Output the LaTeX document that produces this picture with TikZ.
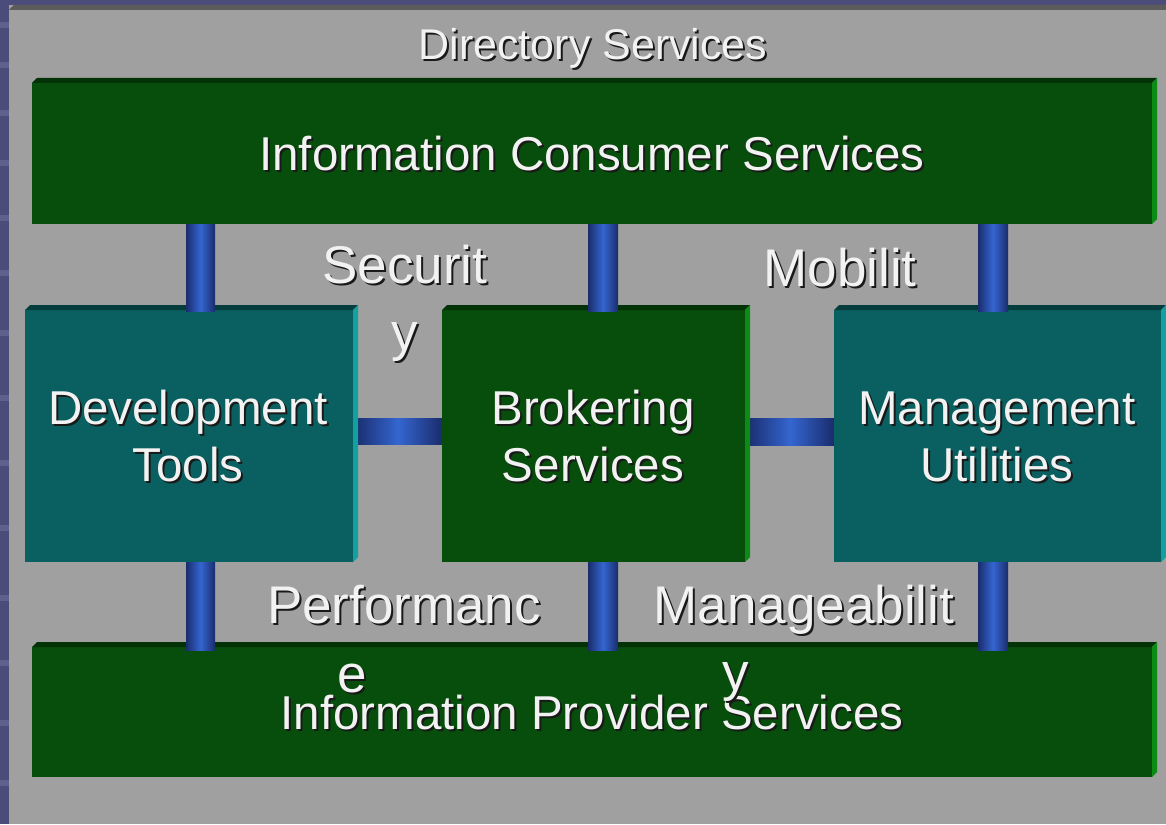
\documentclass[tikz,border=0pt]{standalone}
\usepackage{fontspec}
\setmainfont{Liberation Sans}
\usetikzlibrary{calc}
\definecolor{bgblue}{RGB}{76,76,122}
\definecolor{bgstripe}{RGB}{96,96,140}
\definecolor{panel}{RGB}{160,160,160}
\definecolor{panelband}{RGB}{92,92,92}
\definecolor{gfront}{RGB}{7,77,11}
\definecolor{gtop}{RGB}{3,50,6}
\definecolor{gside}{RGB}{12,140,20}
\definecolor{tfront}{RGB}{10,96,96}
\definecolor{ttop}{RGB}{5,60,60}
\definecolor{tside}{RGB}{18,160,160}
\definecolor{bdark}{RGB}{26,44,108}
\definecolor{blight}{RGB}{52,102,208}
\definecolor{txtc}{RGB}{242,242,242}
\definecolor{shc}{RGB}{25,25,25}
\newcommand\fs[1]{\fontsize{#1}{#1}\selectfont}
\tikzset{
  box/.style={draw=none, inner sep=0pt, outer sep=0pt, anchor=north west},
  gbox/.style={box, fill=gfront},
  tbox/.style={box, fill=tfront},
  bar/.style={inner sep=0pt, outer sep=0pt, draw=none, left color=bdark, right color=bdark, middle color=blight},
  txt/.style={inner sep=0pt, anchor=base, text=txtc},
  txtsh/.style={inner sep=0pt, anchor=base, text=shc},
}
\newcommand\threed[3]{%
  \fill[#2] (#1.north west) -- ++(5,-5) -- ($(#1.north east)+(5,-5)$) -- (#1.north east) -- cycle;
  \fill[#3] (#1.north east) -- ++(5,-5) -- ($(#1.south east)+(5,-5)$) -- (#1.south east) -- cycle;}
\newcommand\stxt[5]{%
  \node[txtsh,font=\fs{#4}] at (#2+2,#3+2) {#5};
  \node[txt,font=\fs{#4}] (#1) at (#2,#3) {#5};}
\begin{document}
\begin{tikzpicture}[x=1pt,y=-1pt]
\useasboundingbox (0,0) rectangle (1166,824);
% background
\fill[bgblue] (0,0) rectangle (1166,824);
\foreach \yy in {22,62,110,160,215,270,330,395,460,525,595,660,720,780}
  \fill[bgstripe] (0,\yy) rectangle (9,\yy+6);
\fill[panel] (9,5) rectangle (1166,824);
\fill[panelband] (9,10) -- (14,5) -- (1166,5) -- (1166,10) -- cycle;
% horizontal connectors (behind boxes)
\node[bar, minimum width=88pt, minimum height=26pt] (h1) at (398,431) {};
\node[bar, minimum width=88pt, minimum height=27pt] (h2) at (790,432) {};
% boxes
\node[gbox, minimum width=1120pt, minimum height=141pt] (cons) at (32,83) {};
\node[gbox, minimum width=1120pt, minimum height=130pt] (prov) at (32,647) {};
\node[tbox, minimum width=328pt, minimum height=252pt] (dev) at (25,310) {};
\node[gbox, minimum width=303pt, minimum height=252pt] (brok) at (442,310) {};
\node[tbox, minimum width=327pt, minimum height=252pt] (mgmt) at (834,310) {};
\threed{cons}{gtop}{gside}
\threed{prov}{gtop}{gside}
\threed{dev}{ttop}{tside}
\threed{brok}{gtop}{gside}
\threed{mgmt}{ttop}{tside}
% vertical connectors
\node[bar, minimum width=29pt, minimum height=87pt] (c1) at (200.5,267.5) {};
\node[bar, minimum width=30pt, minimum height=87pt] (c2) at (603,267.5) {};
\node[bar, minimum width=30pt, minimum height=87pt] (c3) at (993,267.5) {};
\node[bar, minimum width=29pt, minimum height=88pt] (c4) at (200.5,606) {};
\node[bar, minimum width=30pt, minimum height=88pt] (c5) at (603,606) {};
\node[bar, minimum width=30pt, minimum height=88pt] (c6) at (993,606) {};
% texts
\stxt{tdir}{593}{60}{43}{Directory Services}
\stxt{tcons}{592}{170}{47.5}{Information Consumer Services}
\stxt{tdev1}{188}{424}{47.5}{Development}
\stxt{tdev2}{188}{481}{47.5}{Tools}
\stxt{tbrok1}{593}{424}{47.5}{Brokering}
\stxt{tbrok2}{593}{481}{47.5}{Services}
\stxt{tmgmt1}{997}{424}{47.5}{Management}
\stxt{tmgmt2}{997}{481}{47.5}{Utilities}
\stxt{tprov}{592}{729}{47.5}{Information Provider Services}
\stxt{tsec1}{405}{283}{53}{Securit}
\stxt{tsec2}{405}{350}{53}{y}
\stxt{tmob}{840}{286}{53}{Mobilit}
\stxt{tperf1}{404}{623}{53}{Performanc}
\stxt{tperf2}{352}{692}{53}{e}
\stxt{tman1}{804}{623}{53}{Manageabilit}
\stxt{tman2}{736}{690}{53}{y}
\end{tikzpicture}
\end{document}
